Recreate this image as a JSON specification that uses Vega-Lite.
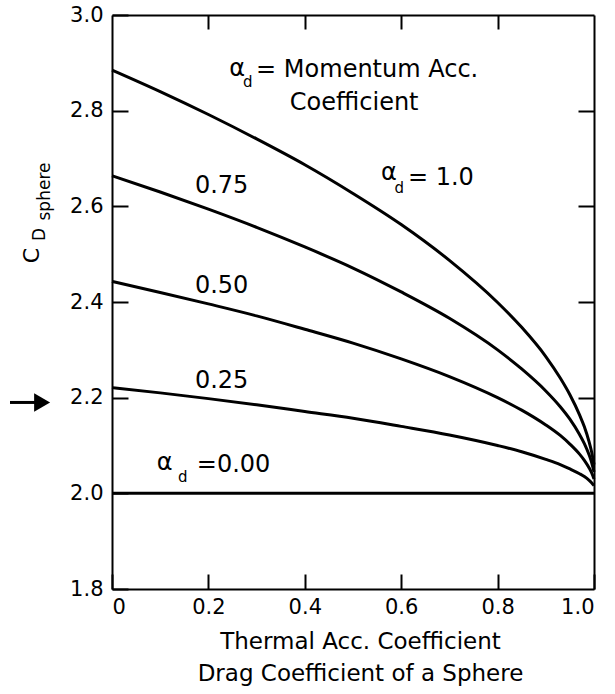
{
  "$schema": "https://vega.github.io/schema/vega-lite/v6.json",
  "width": 482,
  "height": 574,
  "autosize": "none",
  "padding": {"left": 112, "top": 15, "right": 21, "bottom": 105},
  "background": "white",
  "config": {
    "view": {"stroke": null},
    "axis": {
      "grid": false,
      "domainColor": "black",
      "domainWidth": 2,
      "tickColor": "black",
      "tickWidth": 2,
      "labelFont": "DejaVu Sans",
      "labelFontSize": 21,
      "labelColor": "black",
      "titleFont": "DejaVu Sans",
      "titleColor": "black",
      "titleFontWeight": "normal"
    },
    "text": {"font": "DejaVu Sans", "color": "black"}
  },
  "datasets": {
    "curves": [
      {"alpha": "1.00", "t": 0, "cd": 2.885}, {"alpha": "1.00", "t": 0.1, "cd": 2.840}, {"alpha": "1.00", "t": 0.2, "cd": 2.792}, {"alpha": "1.00", "t": 0.3, "cd": 2.741}, {"alpha": "1.00", "t": 0.4, "cd": 2.687}, {"alpha": "1.00", "t": 0.5, "cd": 2.627}, {"alpha": "1.00", "t": 0.6, "cd": 2.562}, {"alpha": "1.00", "t": 0.7, "cd": 2.487}, {"alpha": "1.00", "t": 0.8, "cd": 2.399}, {"alpha": "1.00", "t": 0.85, "cd": 2.347}, {"alpha": "1.00", "t": 0.9, "cd": 2.286}, {"alpha": "1.00", "t": 0.93, "cd": 2.241}, {"alpha": "1.00", "t": 0.95, "cd": 2.206}, {"alpha": "1.00", "t": 0.97, "cd": 2.164}, {"alpha": "1.00", "t": 0.98, "cd": 2.139}, {"alpha": "1.00", "t": 0.99, "cd": 2.107}, {"alpha": "1.00", "t": 0.995, "cd": 2.087}, {"alpha": "1.00", "t": 1.0, "cd": 2.060},
      {"alpha": "0.75", "t": 0, "cd": 2.664}, {"alpha": "0.75", "t": 0.1, "cd": 2.630}, {"alpha": "0.75", "t": 0.2, "cd": 2.594}, {"alpha": "0.75", "t": 0.3, "cd": 2.556}, {"alpha": "0.75", "t": 0.4, "cd": 2.515}, {"alpha": "0.75", "t": 0.5, "cd": 2.471}, {"alpha": "0.75", "t": 0.6, "cd": 2.421}, {"alpha": "0.75", "t": 0.7, "cd": 2.366}, {"alpha": "0.75", "t": 0.8, "cd": 2.300}, {"alpha": "0.75", "t": 0.85, "cd": 2.260}, {"alpha": "0.75", "t": 0.9, "cd": 2.214}, {"alpha": "0.75", "t": 0.93, "cd": 2.181}, {"alpha": "0.75", "t": 0.95, "cd": 2.155}, {"alpha": "0.75", "t": 0.97, "cd": 2.123}, {"alpha": "0.75", "t": 0.98, "cd": 2.104}, {"alpha": "0.75", "t": 0.99, "cd": 2.080}, {"alpha": "0.75", "t": 0.995, "cd": 2.065}, {"alpha": "0.75", "t": 1.0, "cd": 2.045},
      {"alpha": "0.50", "t": 0, "cd": 2.443}, {"alpha": "0.50", "t": 0.1, "cd": 2.420}, {"alpha": "0.50", "t": 0.2, "cd": 2.396}, {"alpha": "0.50", "t": 0.3, "cd": 2.371}, {"alpha": "0.50", "t": 0.4, "cd": 2.343}, {"alpha": "0.50", "t": 0.5, "cd": 2.314}, {"alpha": "0.50", "t": 0.6, "cd": 2.281}, {"alpha": "0.50", "t": 0.7, "cd": 2.244}, {"alpha": "0.50", "t": 0.8, "cd": 2.200}, {"alpha": "0.50", "t": 0.85, "cd": 2.174}, {"alpha": "0.50", "t": 0.9, "cd": 2.143}, {"alpha": "0.50", "t": 0.93, "cd": 2.121}, {"alpha": "0.50", "t": 0.95, "cd": 2.103}, {"alpha": "0.50", "t": 0.97, "cd": 2.082}, {"alpha": "0.50", "t": 0.98, "cd": 2.069}, {"alpha": "0.50", "t": 0.99, "cd": 2.053}, {"alpha": "0.50", "t": 0.995, "cd": 2.043}, {"alpha": "0.50", "t": 1.0, "cd": 2.030},
      {"alpha": "0.25", "t": 0, "cd": 2.221}, {"alpha": "0.25", "t": 0.1, "cd": 2.210}, {"alpha": "0.25", "t": 0.2, "cd": 2.198}, {"alpha": "0.25", "t": 0.3, "cd": 2.185}, {"alpha": "0.25", "t": 0.4, "cd": 2.171}, {"alpha": "0.25", "t": 0.5, "cd": 2.157}, {"alpha": "0.25", "t": 0.6, "cd": 2.140}, {"alpha": "0.25", "t": 0.7, "cd": 2.122}, {"alpha": "0.25", "t": 0.8, "cd": 2.100}, {"alpha": "0.25", "t": 0.85, "cd": 2.087}, {"alpha": "0.25", "t": 0.9, "cd": 2.071}, {"alpha": "0.25", "t": 0.93, "cd": 2.060}, {"alpha": "0.25", "t": 0.95, "cd": 2.051}, {"alpha": "0.25", "t": 0.97, "cd": 2.041}, {"alpha": "0.25", "t": 0.98, "cd": 2.035}, {"alpha": "0.25", "t": 0.99, "cd": 2.027}, {"alpha": "0.25", "t": 0.995, "cd": 2.022}, {"alpha": "0.25", "t": 1.0, "cd": 2.016},
      {"alpha": "0.00", "t": 0, "cd": 2.0}, {"alpha": "0.00", "t": 1.0, "cd": 2.0}
    ],
    "bigText": [
      {"x": 0.243, "y": 2.873, "label": "α"},
      {"x": 0.299, "y": 2.871, "label": "= Momentum Acc."},
      {"x": 0.369, "y": 2.802, "label": "Coefficient"},
      {"x": 0.558, "y": 2.656, "label": "α"},
      {"x": 0.614, "y": 2.645, "label": "= 1.0"},
      {"x": 0.172, "y": 2.628, "label": "0.75"},
      {"x": 0.172, "y": 2.419, "label": "0.50"},
      {"x": 0.172, "y": 2.220, "label": "0.25"},
      {"x": 0.093, "y": 2.049, "label": "α"},
      {"x": 0.176, "y": 2.045, "label": "=0.00"}
    ],
    "subText": [
      {"x": 0.272, "y": 2.850, "label": "d"},
      {"x": 0.586, "y": 2.628, "label": "d"},
      {"x": 0.137, "y": 2.024, "label": "d"}
    ],
    "yTitleMain": [
      {"x": -0.1515, "y": 2.497, "label": "C"}
    ],
    "yTitleSub": [
      {"x": -0.139, "y": 2.541, "label": "D"},
      {"x": -0.1286, "y": 2.631, "label": "sphere"}
    ],
    "arrowShaft": [
      {"x": -0.2116, "x2": -0.155, "y": 2.19}
    ],
    "arrowHead": [
      {"x": -0.145, "y": 2.19}
    ]
  },
  "layer": [
    {
      "data": {"name": "curves"},
      "mark": {"type": "line", "strokeWidth": 3, "color": "black", "interpolate": "monotone"},
      "encoding": {
        "x": {
          "field": "t", "type": "quantitative",
          "scale": {"domain": [0, 1], "nice": false, "zero": false},
          "axis": {
            "orient": "bottom",
            "values": [0, 0.2, 0.4, 0.6, 0.8, 1.0],
            "tickSize": -15,
            "labelPadding": 22,
            "labelExpr": "datum.value == 0 ? '0' : format(datum.value, '.1f')",
            "title": ["Thermal Acc. Coefficient", "Drag Coefficient of a Sphere"],
            "titleFontSize": 23,
            "titleBaseline": "alphabetic",
            "titleY": 59,
            "titleX": 248,
            "titleAlign": "center",
            "titleLineHeight": 32
          }
        },
        "y": {
          "field": "cd", "type": "quantitative",
          "scale": {"domain": [1.8, 3.0], "nice": false, "zero": false},
          "axis": {
            "orient": "left",
            "values": [1.8, 2.0, 2.2, 2.4, 2.6, 2.8, 3.0],
            "format": ".1f",
            "tickSize": -16,
            "labelPadding": 25,
            "title": null
          }
        },
        "detail": {"field": "alpha", "type": "nominal"}
      }
    },
    {
      "data": {"name": "curves"},
      "mark": {"type": "line", "opacity": 0},
      "encoding": {
        "x": {
          "field": "t", "type": "quantitative",
          "axis": {"orient": "top", "values": [0.2, 0.4, 0.6, 0.8], "labels": false, "tickSize": -14, "title": null}
        },
        "y": {
          "field": "cd", "type": "quantitative",
          "axis": {"orient": "right", "values": [2.2, 2.4, 2.6, 2.8], "labels": false, "tickSize": -16, "title": null}
        },
        "detail": {"field": "alpha", "type": "nominal"}
      }
    },
    {
      "data": {"name": "bigText"},
      "mark": {"type": "text", "fontSize": 24, "align": "left", "baseline": "alphabetic"},
      "encoding": {
        "x": {"field": "x", "type": "quantitative", "axis": null},
        "y": {"field": "y", "type": "quantitative", "axis": null},
        "text": {"field": "label"}
      }
    },
    {
      "data": {"name": "subText"},
      "mark": {"type": "text", "fontSize": 15, "align": "left", "baseline": "alphabetic"},
      "encoding": {
        "x": {"field": "x", "type": "quantitative", "axis": null},
        "y": {"field": "y", "type": "quantitative", "axis": null},
        "text": {"field": "label"}
      }
    },
    {
      "data": {"name": "yTitleMain"},
      "mark": {"type": "text", "fontSize": 22, "align": "center", "baseline": "alphabetic", "angle": 270},
      "encoding": {
        "x": {"field": "x", "type": "quantitative", "axis": null},
        "y": {"field": "y", "type": "quantitative", "axis": null},
        "text": {"field": "label"}
      }
    },
    {
      "data": {"name": "yTitleSub"},
      "mark": {"type": "text", "fontSize": 17, "align": "center", "baseline": "alphabetic", "angle": 270},
      "encoding": {
        "x": {"field": "x", "type": "quantitative", "axis": null},
        "y": {"field": "y", "type": "quantitative", "axis": null},
        "text": {"field": "label"}
      }
    },
    {
      "data": {"name": "arrowShaft"},
      "mark": {"type": "rule", "strokeWidth": 3, "color": "black"},
      "encoding": {
        "x": {"field": "x", "type": "quantitative", "axis": null},
        "x2": {"field": "x2"},
        "y": {"field": "y", "type": "quantitative", "axis": null}
      }
    },
    {
      "data": {"name": "arrowHead"},
      "mark": {"type": "point", "shape": "triangle-right", "filled": true, "color": "black", "opacity": 1, "size": 340},
      "encoding": {
        "x": {"field": "x", "type": "quantitative", "axis": null},
        "y": {"field": "y", "type": "quantitative", "axis": null}
      }
    }
  ],
  "resolve": {"axis": {"x": "independent", "y": "independent"}}
}
